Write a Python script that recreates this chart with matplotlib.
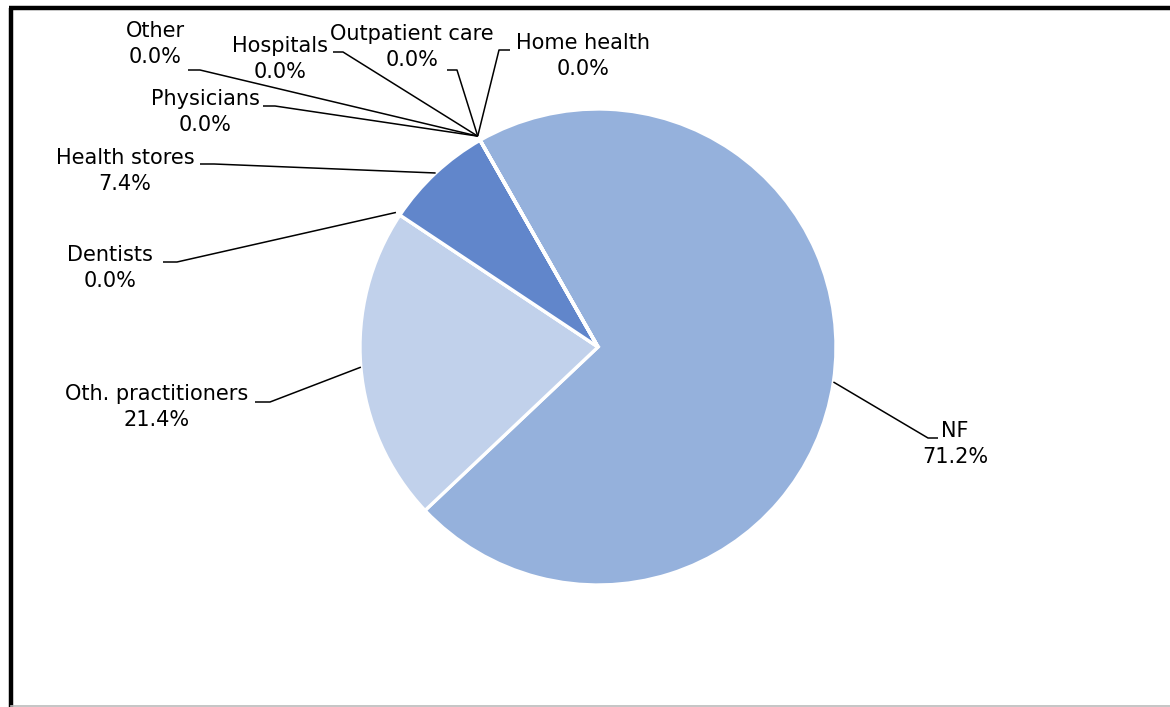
import numpy as np
import matplotlib
matplotlib.use('Agg')
from matplotlib import pyplot as plt
from matplotlib.lines import Line2D

# slices, clockwise from the first one
labels = ['NF', 'Oth. practitioners', 'Dentists', 'Health stores',
          'Physicians', 'Other', 'Hospitals', 'Outpatient care', 'Home health']
shares = [71.2, 21.4, 0.0, 7.4, 0.0, 0.0, 0.0, 0.0, 0.0]
colors = ['#95B1DC', '#C1D1EB', '#C1D1EB', '#6186CB',
          '#95B1DC', '#95B1DC', '#95B1DC', '#95B1DC', '#95B1DC']

# label layout in pixels from top-left: text centre, stub start, stub end
label_pos = {
    'NF': ((955, 444), (928, 438), (938, 438)),
    'Oth. practitioners': ((157, 407), (270, 402), (255, 402)),
    'Dentists': ((110, 268), (177, 262), (163, 262)),
    'Health stores': ((125, 171), (214, 164), (200, 164)),
    'Physicians': ((205, 112), (275, 106), (263, 106)),
    'Other': ((155, 44), (200, 70), (188, 70)),
    'Hospitals': ((280, 59), (343, 52), (333, 52)),
    'Outpatient care': ((412, 47), (457, 70), (447, 70)),
    'Home health': ((583, 56), (499, 50), (510, 50)),
}

W, H = 1170, 707
cx, cy, R = 598, 347, 238
start = 119.7

fig = plt.figure(figsize=(W / 100, H / 100), dpi=100)
ax = fig.add_axes([0, 0, 1, 1])

ax.pie(shares, colors=colors, startangle=start, counterclock=False,
       center=(cx, H - cy), radius=R, frame=True,
       wedgeprops=dict(edgecolor='white', linewidth=2.4))
ax.set_xlim(0, W)
ax.set_ylim(0, H)
ax.set_aspect('equal')
ax.axis('off')

cum = 0.0
for lab, v in zip(labels, shares):
    mid = np.deg2rad(start - (cum + v / 2) * 3.6)
    cum += v
    r = R if v > 0 else R * 1.02
    ex, ey = cx + r * np.cos(mid), (H - cy) + r * np.sin(mid)
    (tx, ty), (s0x, s0y), (s1x, s1y) = label_pos[lab]
    ax.plot([ex, s0x, s1x], [ey, H - s0y, H - s1y], color='black', lw=1.1,
            solid_capstyle='butt')
    ax.text(tx, H - ty, '%s\n%.1f%%' % (lab, v), ha='center', va='center',
            fontsize=15, linespacing=1.42, color='black')

# chart frame
fig.add_artist(Line2D([9 / W, 1], [1 - 7.5 / H] * 2, color='black', lw=3.2,
                      solid_capstyle='butt', transform=fig.transFigure))
fig.add_artist(Line2D([11 / W] * 2, [0, 1 - 7.5 / H], color='black', lw=3.2,
                      solid_capstyle='butt', transform=fig.transFigure))
fig.add_artist(Line2D([11 / W, 1], [1.2 / H] * 2, color='#BBBBBB', lw=1.2,
                      transform=fig.transFigure))

fig.savefig('out.png', dpi=100)
